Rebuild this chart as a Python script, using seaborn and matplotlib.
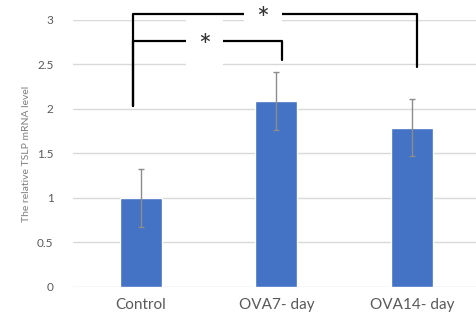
import matplotlib
matplotlib.use("Agg")
import matplotlib.pyplot as plt
import matplotlib.patches as mpatches
import seaborn as sns
import pandas as pd

# ------------------------------------------------------------
# Relative TSLP mRNA level - Control vs OVA 7 / 14 day
# ------------------------------------------------------------

groups = ["Control", "OVA7- day", "OVA14- day"]
means = [1.0, 2.09, 1.79]
errors = [0.33, 0.33, 0.32]
y_ticks = [0, 0.5, 1, 1.5, 2, 2.5, 3]
y_tick_labels = ["0", "0.5", "1", "1.5", "2", "2.5", "3"]

# significance brackets:
# (from group, to group, bracket height, left foot, right foot, star position)
brackets = [
    (0, 1, 2.76, 2.03, 2.55, 0.47),
    (0, 2, 3.07, 2.03, 2.47, 0.90),
]

bar_color = "#4472c4"
text_grey = "#595959"
label_grey = "#7f7f7f"
grid_grey = "#d9d9d9"

sns.set_style("white")
plt.rcParams["font.family"] = ["Lato", "DejaVu Sans"]

df = pd.DataFrame({"group": groups, "value": means})

fig = plt.figure(figsize=(4.77, 3.31), dpi=100)
ax = fig.add_axes([0.153, 0.133, 0.847, 0.807])

sns.barplot(data=df, x="group", y="value", color=bar_color,
            width=0.31, saturation=1, errorbar=None, ax=ax)
ax.errorbar(range(len(groups)), means, yerr=errors, fmt="none",
            ecolor="#8c8c8c", elinewidth=1.0, capsize=2.5, capthick=1.0, zorder=3)

ax.set_ylim(0, 3)
ax.set_xlim(-0.5, 2.48)
ax.set_yticks(y_ticks)
ax.set_yticklabels(y_tick_labels, fontsize=8.5, color=text_grey)
ax.tick_params(axis="y", length=0, pad=14)
ax.tick_params(axis="x", length=0, pad=8, labelsize=11, labelcolor=text_grey)
ax.yaxis.grid(True, color=grid_grey, linewidth=1)
ax.set_axisbelow(True)
for s in ax.spines.values():
    s.set_visible(False)
ax.set_xlabel("")
ax.set_ylabel("The relative TSLP mRNA level", fontsize=7.5, color=label_grey, labelpad=4)

# brackets: white box breaks the line (and gridlines), star drawn on top
for x0, x1, h, foot0, foot1, xs in brackets:
    xl = x0 - 0.06
    xr = x1 + 0.04
    ax.plot([xl, xl, xr, xr], [foot0, h, h, foot1],
            color="black", linewidth=1.6, clip_on=False, zorder=4)
    ax.add_patch(mpatches.Rectangle((xs - 0.14, h - 0.28), 0.28, 0.56,
                                    facecolor="white", edgecolor="none",
                                    clip_on=False, zorder=5))
    ax.annotate("*", xy=(xs, h), xytext=(0, -4.5), textcoords="offset points",
                ha="center", va="center", fontsize=22, color="#333333",
                annotation_clip=False, zorder=6)

fig.savefig("out.png", dpi=100)
